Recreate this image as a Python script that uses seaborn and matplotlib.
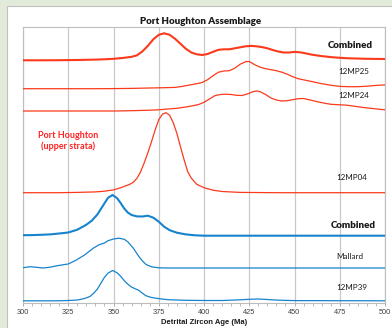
import matplotlib
matplotlib.use("Agg")
import matplotlib.pyplot as plt
from matplotlib.patches import Rectangle
from matplotlib.ticker import MultipleLocator
import seaborn as sns
import pandas as pd

sns.set_theme(style="white")
plt.rcParams['font.family'] = ['Lato', 'DejaVu Sans']

# ---------------- data ----------------
title = "Port Houghton Assemblage"
x_label = "Detrital Zircon Age (Ma)"
x_ticks = [300, 325, 350, 375, 400, 425, 450, 475, 500]

samples = ["Combined (PH)", "12MP25", "12MP24", "12MP04", "Combined (M)", "Mallard", "12MP39"]
labels = ["Combined", "12MP25", "12MP24", "12MP04", "Combined", "Mallard", "12MP39"]
group_label = "Port Houghton\n(upper strata)"

ph_comb_age = [300, 310, 320, 330, 340, 345, 350, 355, 360, 363, 366, 369, 372, 375, 378, 381, 384,
               387, 390, 393, 396, 399, 402, 405, 408, 411, 414, 417, 420, 423, 426, 429, 432, 435,
               438, 441, 444, 447, 450, 453, 456, 460, 465, 470, 475, 480, 490, 500]
ph_comb_val = [0, 0, 0.1, 0.3, 0.7, 1, 1.5, 2.3, 3.5, 5, 9, 14.5, 21, 25.5, 27, 25.5, 21.5,
               16.5, 11.5, 7.8, 6, 5.3, 6.3, 8.5, 10.5, 11, 11, 12, 13, 14, 14.4, 14, 13.2, 12,
               10.3, 8.8, 7.8, 7.8, 8.4, 8, 7, 5.5, 4.2, 3.2, 2.5, 2, 1.5, 1.3]

mp25_age = [300, 340, 350, 360, 370, 378, 384, 388, 392, 396, 399, 402, 405, 408, 411, 414, 417,
            420, 423, 425, 428, 431, 434, 437, 440, 443, 446, 449, 452, 456, 460, 465, 470, 475,
            480, 485, 490, 495, 500]
mp25_val = [0, 0, 0.1, 0.3, 0.7, 1, 1.3, 2.3, 3.7, 5, 6.2, 9, 13, 16.5, 17.7, 18, 20.5,
            24.5, 27, 27.2, 24, 21.5, 20, 19, 18, 16.5, 14.5, 12, 10, 8.5, 7, 5, 3.5, 2.3,
            2, 2, 2.5, 3.3, 3.8]

mp24_age = [300, 350, 360, 370, 375, 380, 385, 390, 394, 397, 400, 403, 406, 409, 412, 415, 418,
            421, 424, 427, 429, 431, 434, 437, 440, 443, 446, 449, 452, 455, 458, 462, 466, 470,
            475, 479, 484, 488, 494, 500]
mp24_val = [0, 0, 0.3, 0.8, 1.2, 2, 2.7, 4, 5.3, 6.5, 8.7, 12, 15.3, 16.5, 16.8, 16.5, 15.7,
            15.5, 17, 19.3, 20, 19.3, 16.5, 13, 11, 10, 10.3, 11.3, 12.3, 12.5, 11.3, 9.5, 8, 6.7,
            6.2, 5.8, 4.5, 3.5, 2.3, 1.2]

mp04_age = [300, 320, 330, 340, 345, 350, 354, 359, 361, 363, 365, 367, 369, 371, 373, 375, 377,
            379, 381, 383, 385, 387, 389, 391, 393, 396, 400, 405, 410, 420, 440, 500]
mp04_val = [0, 0, 0.3, 0.8, 1.5, 2.8, 5, 8.4, 10.5, 14.5, 21, 30, 40, 51, 62.7, 73, 78.5,
            80, 77.5, 70, 59.4, 46, 33, 21, 14.5, 8.4, 5, 2.5, 1.2, 0.3, 0, 0]

m_comb_age = [300, 305, 310, 315, 320, 325, 330, 335, 338, 341, 344, 347, 349.5, 352, 354, 356,
              358, 360, 363, 366, 369, 372, 375, 378, 381, 385, 390, 395, 400, 500]
m_comb_val = [0.5, 0.6, 0.9, 1.3, 2.2, 3.2, 6, 11, 15, 21, 29.5, 38, 40.7, 37.5, 32.5, 27,
              23, 20.7, 19.3, 19.2, 20, 18, 14, 9, 5.5, 3, 1.3, 0.4, 0, 0]

mallard_age = [300, 304, 307, 311, 315, 318, 322, 325, 329, 334, 339, 342, 345, 347, 350, 353,
               356, 358, 361, 364, 366, 368, 371, 375, 380, 500]
mallard_val = [0.3, 1.3, 0.8, 0, 0.8, 2, 3.2, 4, 7.5, 13, 20, 23.2, 25, 27.3, 29, 29.8,
               28.7, 26, 19.7, 11.5, 7, 3.5, 1.2, 0.2, 0, 0]

mp39_age = [300, 320, 325, 330, 334, 337, 339, 341, 343, 345, 347, 349.5, 352, 354, 356, 358,
            360, 362, 364, 366, 368, 371, 375, 380, 390, 400, 410, 420, 425, 430, 435, 440, 450, 500]
mp39_val = [0, 0, 0.3, 0.8, 2.3, 4.3, 7.5, 11.5, 17.5, 23.5, 27.7, 30.3, 28, 24.5, 20, 16.5,
            13.7, 12, 10.5, 7.5, 5, 3.3, 2.2, 1.1, 0.5, 0.3, 0.3, 1, 1.5, 1.8, 1.3, 0.7, 0.2, 0]

ages = [ph_comb_age, mp25_age, mp24_age, mp04_age, m_comb_age, mallard_age, mp39_age]
vals = [ph_comb_val, mp25_val, mp24_val, mp04_val, m_comb_val, mallard_val, mp39_val]

# ---------------- layout / style ----------------
offsets = [242.4, 214.0, 191.7, 110.0, 67.0, 34.7, 1.9]
RED = "#FB3A1C"
BLUE = "#1683CC"
colors = [RED, RED, RED, RED, BLUE, BLUE, BLUE]
widths = [1.5, 0.9, 0.9, 0.9, 1.5, 0.9, 0.9]
label_y = [46, 72, 96, 178, 225, 256.7, 288]   # pixel rows
label_x = [350, 354, 354, 352, 353, 350, 352]
label_bold = [True, False, False, False, True, False, False]

W, H = 392, 328
fig = plt.figure(figsize=(W / 100, H / 100), dpi=100)
fig.patch.set_facecolor("#E2EBDA")
panel = Rectangle((7 / W, -0.1), 1.2, 1 - 6 / H + 0.1, transform=fig.transFigure,
                  facecolor="white", edgecolor="#BFBFBF", linewidth=0.8, zorder=-5)
fig.add_artist(panel)

ax_left, ax_right, ax_top, ax_bottom = 23, 385, 26.7, 302.7
ax = fig.add_axes([ax_left / W, 1 - ax_bottom / H, (ax_right - ax_left) / W, (ax_bottom - ax_top) / H])
ax.set_zorder(5)
ax.set_facecolor("white")

rows = []
for s, a, v, off in zip(samples, ages, vals, offsets):
    for xa, yv in zip(a, v):
        rows.append({"sample": s, "age": xa, "y": off + yv})
df = pd.DataFrame(rows)

for s, c, lw in zip(samples, colors, widths):
    sns.lineplot(data=df[df["sample"] == s], x="age", y="y", color=c, linewidth=lw, ax=ax,
                 legend=False, zorder=3, solid_joinstyle="round", solid_capstyle="round")

ax.set_xlim(300, 500)
ax.set_ylim(0, ax_bottom - ax_top)
ax.set_xticks(x_ticks)
ax.xaxis.set_minor_locator(MultipleLocator(5))
ax.set_yticks([])
ax.grid(axis="x", which="major", color="#C9C9C9", linewidth=0.9, zorder=0)
for side in ["left", "right", "top", "bottom"]:
    ax.spines[side].set_visible(True)
    ax.spines[side].set_color("#BDBDBD")
    ax.spines[side].set_linewidth(0.8)
ax.tick_params(axis="x", which="major", length=2.5, width=0.6, color="#A0A0A0", pad=2,
               labelsize=5.3, labelcolor="#404040", bottom=True)
ax.tick_params(axis="x", which="minor", length=1.8, width=0.5, color="#A0A0A0", bottom=True)
for t in ax.get_xticklabels():
    t.set_family(["Liberation Sans", "DejaVu Sans"])
ax.set_xlabel("")
ax.set_ylabel("")

fig.text(201 / W, 1 - 22 / H, title, ha="center", va="center", fontsize=7.0, fontweight="heavy",
         color="#1A1A1A", zorder=10)
fig.text(204 / W, 1 - 322.5 / H, x_label, ha="center", va="center", fontsize=5.5, fontweight="bold",
         color="#1A1A1A", family=["Liberation Sans", "DejaVu Sans"], zorder=10)

for lab, lx, ly, b in zip(labels, label_x, label_y, label_bold):
    fig.text(lx / W, 1 - ly / H, lab, ha="center", va="center", zorder=10,
             fontsize=7.0 if b else 5.8, fontweight="heavy" if b else "normal", color="#1A1A1A")

fig.text(68.3 / W, 1 - 141 / H, group_label, ha="center", va="center", fontsize=6.5, zorder=10,
         fontweight="bold", color="#FF2020", linespacing=1.15)

fig.savefig("out.png", dpi=100, facecolor=fig.get_facecolor())
